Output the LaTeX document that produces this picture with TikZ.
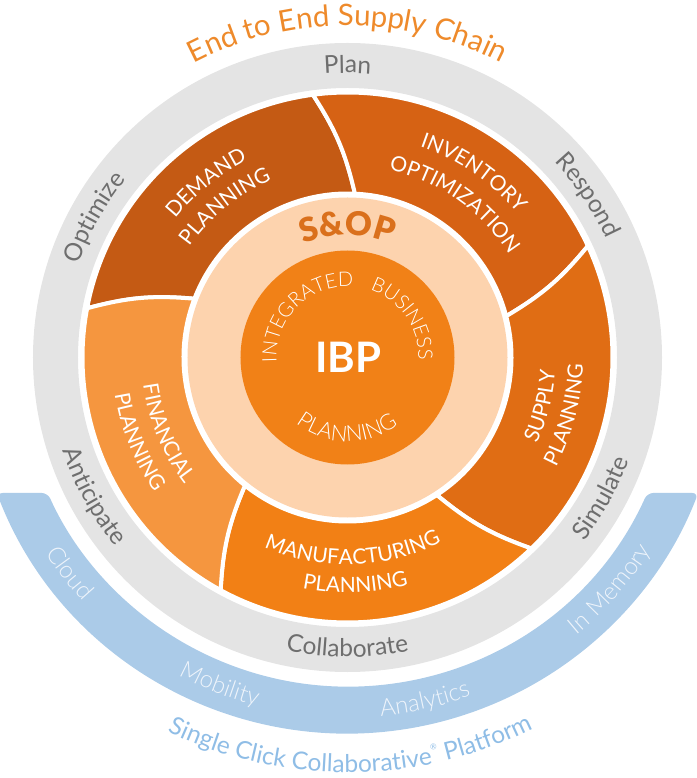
\documentclass[tikz,border=0pt]{standalone}
\usepackage{fontspec}
\usetikzlibrary{decorations.text}
\setmainfont{Lato}
\newfontfamily\lightfont{Lato}[UprightFont=* Light]
\newfontfamily\blackfont{Lato}[UprightFont=* Black]
\definecolor{demandcol}{HTML}{C45A14}
\definecolor{inventorycol}{HTML}{D66214}
\definecolor{supplycol}{HTML}{E06D14}
\definecolor{manufcol}{HTML}{F28015}
\definecolor{financecol}{HTML}{F5963F}
\definecolor{peachcol}{HTML}{FDD3AE}
\definecolor{corecol}{HTML}{F18117}
\definecolor{ringcol}{HTML}{E4E4E4}
\definecolor{bandcol}{HTML}{ABCBE8}
\definecolor{ringtext}{HTML}{6E6E6E}
\definecolor{titletext}{HTML}{EE8A2B}
\definecolor{soptext}{HTML}{DA701C}
\definecolor{bandtext}{HTML}{EEF4FB}
\definecolor{platformtext}{HTML}{8FBDE6}
\newcommand{\toptext}[4]{\path[decorate,decoration={text along path,text align=center,text={|#1|#4}}] (#3+85:#2) arc[start angle=#3+85,end angle=#3-85,radius=#2];}
\newcommand{\bottomtext}[4]{\path[decorate,decoration={text along path,text align=center,text={|#1|#4}}] (#3-85:#2) arc[start angle=#3-85,end angle=#3+85,radius=#2];}
\newcommand{\ringfont}{\color{ringtext}\fontsize{24.5}{24.5}\selectfont}
\newcommand{\bandfont}{\lightfont\color{bandtext}\fontsize{24}{24}\selectfont}
\newcommand{\platformfont}{\color{platformtext}\fontsize{24.5}{24.5}\selectfont}
\newcommand{\titlefont}{\color{titletext}\fontsize{29.5}{29.5}\selectfont}
\newcommand{\sectorfont}{\color{white}\fontsize{21}{21}\selectfont}
\begin{document}
\begin{tikzpicture}[x=1pt,y=1pt]
    \tikzstyle{sector}=[draw=white,line width=4pt];
    \useasboundingbox (-347.5,-420.5) rectangle (348.5,357.5);

    \draw[ringcol,line width=45pt] (0,0) circle[radius=292];
    \fill[bandcol,rounded corners=6pt] (201.12:376) arc[start angle=201.12,end angle=338.88,radius=376] -- (335.68:329) arc[start angle=335.68,end angle=204.32,radius=329] -- cycle;

    \path[sector,fill=demandcol] (97.5:265) arc[start angle=97.5,end angle=169.3,radius=265] to[bend left=10] (159:164) arc[start angle=159,end angle=87.4,radius=164] to[bend right=10] (97.5:265) -- cycle;
    \path[sector,fill=inventorycol] (24.9:265) arc[start angle=24.9,end angle=97.5,radius=265] to[bend left=10] (87.4:164) arc[start angle=87.4,end angle=14.6,radius=164] to[bend right=10] (24.9:265) -- cycle;
    \path[sector,fill=supplycol] (-46.1:265) arc[start angle=-46.1,end angle=24.9,radius=265] to[bend left=10] (14.6:164) arc[start angle=14.6,end angle=-57,radius=164] to[bend right=10] (-46.1:265) -- cycle;
    \path[sector,fill=manufcol] (-118.6:265) arc[start angle=-118.6,end angle=-46.1,radius=265] to[bend left=10] (-57:164) arc[start angle=-57,end angle=-128.7,radius=164] to[bend right=10] (-118.6:265) -- cycle;
    \path[sector,fill=financecol] (169.3:265) arc[start angle=169.3,end angle=241.4,radius=265] to[bend left=10] (231.3:164) arc[start angle=231.3,end angle=159,radius=164] to[bend right=10] (169.3:265) -- cycle;

    \fill[peachcol] (0,0) circle[radius=160];
    \fill[corecol] (0,0) circle[radius=107];

    % outer texts
    \toptext{\titlefont}{332}{90}{End to End Supply Chain}
    \toptext{\ringfont}{284.5}{90}{Plan}
    \toptext{\ringfont}{284.5}{34}{Respond}
    \toptext{\ringfont}{284.5}{151}{Optimize}
    \bottomtext{\ringfont}{299.5}{208.7}{Anticipate}
    \bottomtext{\ringfont}{299.5}{-29}{Simulate}
    \bottomtext{\ringfont}{299.5}{-90}{Collaborate}

    \bottomtext{\bandfont}{360}{217.8}{Cloud}
    \bottomtext{\bandfont}{360}{248.7}{Mobility}
    \bottomtext{\bandfont}{360}{-77.3}{Analytics}
    \bottomtext{\bandfont}{360}{-41.4}{In Memory}
    \bottomtext{\platformfont}{415}{263.1}{Single Click Collaborative}
    \bottomtext{\platformfont}{415}{-69.8}{Platform}
    \node[text=platformtext,font=\fontsize{8}{8}\selectfont,inner sep=0pt,rotate=14] (regmark) at (86,-389.5) {®};

    % sector texts
    \toptext{\sectorfont}{221}{129}{DEMAND}
    \toptext{\sectorfont}{193}{129}{PLANNING}
    \toptext{\sectorfont}{223}{55.7}{INVENTORY}
    \toptext{\sectorfont}{192}{55}{OPTIMIZATION}
    \bottomtext{\sectorfont}{208}{-14}{SUPPLY}
    \bottomtext{\sectorfont}{235.5}{-14.7}{PLANNING}
    \bottomtext{\sectorfont}{207}{-88.4}{MANUFACTURING}
    \bottomtext{\sectorfont}{235}{-88}{PLANNING}
    \bottomtext{\sectorfont}{206}{202.7}{FINANCIAL}
    \bottomtext{\sectorfont}{235.5}{202}{PLANNING}

    % centre texts
    \toptext{\blackfont\color{soptext}\fontsize{33}{33}\selectfont}{122}{90}{S{\&}OP}
    \toptext{\lightfont\color{white}\fontsize{20}{20}\selectfont}{71}{134.5}{INTEGRATED}
    \toptext{\lightfont\color{white}\fontsize{20}{20}\selectfont}{71}{34.8}{BUSINESS}
    \bottomtext{\lightfont\color{white}\fontsize{22}{22}\selectfont}{84}{-90.5}{PLANNING}
    \node[text=white,font=\bfseries\fontsize{42}{42}\selectfont,inner sep=0pt] (ibp) at (1,0) {IBP};
\end{tikzpicture}
\end{document}
